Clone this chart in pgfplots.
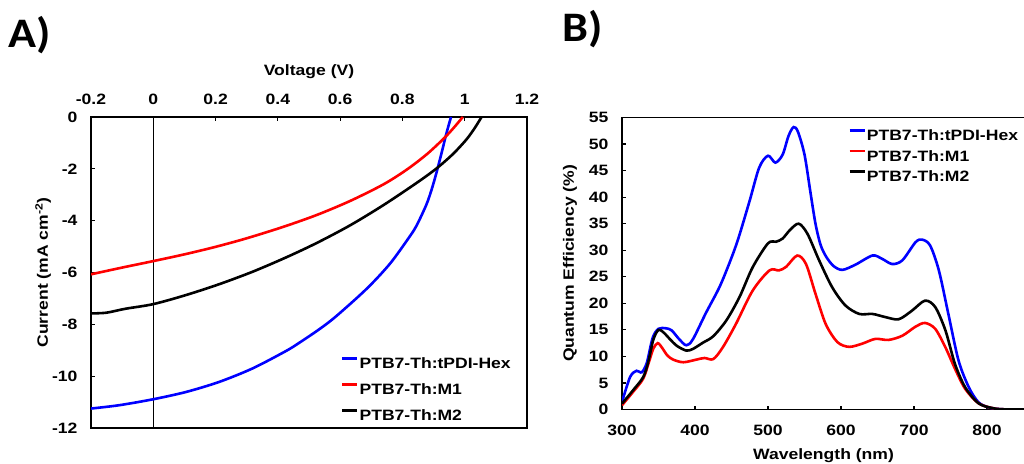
\documentclass[border=0pt]{standalone}
\usepackage{fontspec}
\setmainfont{Liberation Sans}[FakeStretch=1.17]
\newfontfamily\calfont{Carlito}[FakeStretch=1.1]
\usepackage{pgfplots}
\pgfplotsset{compat=1.18}
\newcommand\fs{\bfseries\fontsize{15}{18}\selectfont}
\pgfplotsset{
  common/.style={
    scale only axis,
    axis line style={line width=1.2pt},
    every tick/.style={black, line width=1.2pt},
    major tick length=4pt,
    tick align=inside,
    /pgf/number format/assume math mode=true,
    tick label style={font=\fs},
    legend cell align=left,
    legend image code/.code={\draw[##1, line width=2.6pt] (0pt,4.5pt) -- (15pt,4.5pt);},
    every axis plot/.append style={line width=2.6pt, smooth},
  }
}
\begin{document}
\begin{tikzpicture}[x=1pt,y=1pt]
\useasboundingbox (0,0) rectangle (1024,463);
\node[font=\calfont\bfseries\fontsize{42}{42}\selectfont, anchor=base west, inner sep=0pt] at (8,415) {A)};
\node[font=\calfont\bfseries\fontsize{42}{42}\selectfont, anchor=base west, inner sep=0pt] at (562,421) {B)};
% Panel A
\begin{axis}[common,
  at={(91pt,35pt)}, anchor=south west, width=436pt, height=311pt,
  xmin=-0.2, xmax=1.2, ymin=-12, ymax=0,
  xtick={-0.2,0,0.2,0.4,0.6,0.8,1,1.2}, ytick={-12,-10,-8,-6,-4,-2,0},
  xtick pos=right, xticklabel pos=right, ytick pos=left,
  xticklabel style={yshift=9pt},
  yticklabel style={xshift=-10pt},
  xlabel={Voltage (V)}, ylabel={Current (mA cm\textsuperscript{-2})},
  every axis x label/.style={at={(axis description cs:0.5,1.145)}, anchor=center, font=\fs},
  every axis y label/.style={at={(axis description cs:-0.110,0.5)}, rotate=90, anchor=center, font=\fs},
  legend style={draw=none, fill=none, font=\fs, inner sep=0pt, row sep=11pt,
    nodes={inner xsep=1pt, inner ysep=2pt, text height=11pt, text depth=0pt},
    at={(axis description cs:0.573,0.233)}, anchor=north west},
]
\addplot[black, line width=1.2pt, sharp plot, forget plot] coordinates {(0,-12) (0,0)};
\addplot[blue] coordinates {
(-0.2,-11.25) (-0.109,-11.12) (0,-10.89) (0.105,-10.61) (0.212,-10.22) (0.319,-9.70)
(0.426,-9.03) (0.469,-8.71) (0.533,-8.19) (0.587,-7.69) (0.685,-6.63) (0.76,-5.66)
(0.824,-4.60) (0.845,-4.2) (0.867,-3.65) (0.88,-3.29) (0.894,-2.79) (0.91,-2.12)
(0.926,-1.37) (0.942,-0.60) (0.956,0)};
\addlegendentry{PTB7-Th:tPDI-Hex}
\addplot[red] coordinates {
(-0.2,-6.07) (-0.1,-5.81) (0,-5.56) (0.1,-5.30) (0.2,-5.01) (0.3,-4.68) (0.417,-4.24)
(0.525,-3.78) (0.632,-3.24) (0.739,-2.6) (0.814,-2.03) (0.878,-1.44) (0.932,-0.84)
(0.963,-0.44) (0.994,0)};
\addlegendentry{PTB7-Th:M1}
\addplot[black] coordinates {
(-0.2,-7.58) (-0.15,-7.55) (-0.09,-7.40) (0,-7.22) (0.105,-6.87) (0.212,-6.45)
(0.319,-5.97) (0.426,-5.42) (0.525,-4.86) (0.632,-4.18) (0.739,-3.40) (0.846,-2.54)
(0.91,-1.98) (0.963,-1.42) (1.006,-0.86) (1.033,-0.41) (1.054,0)};
\addlegendentry{PTB7-Th:M2}
\end{axis}
% Panel B
\begin{axis}[common,
  at={(622pt,53.5pt)}, anchor=south west, width=403pt, height=292pt,
  xmin=300, xmax=852, ymin=0, ymax=55,
  xtick={300,400,500,600,700,800}, ytick={0,5,10,15,20,25,30,35,40,45,50,55},
  xtick pos=left, ytick pos=left,
  xticklabel style={yshift=-12pt},
  yticklabel style={xshift=-10pt},
  xlabel={Wavelength (nm)}, ylabel={Quantum Efficiency (\%)},
  every axis x label/.style={at={(axis description cs:0.5,-0.159)}, anchor=center, font=\fs},
  every axis y label/.style={at={(axis description cs:-0.129,0.5)}, rotate=90, anchor=center, font=\fs},
  legend style={draw=none, fill=none, font=\fs, inner sep=0pt, row sep=5.5pt,
    nodes={inner xsep=1pt, inner ysep=2pt, text height=11pt, text depth=0pt},
    at={(axis description cs:0.561,0.966)}, anchor=north west},
]
\addplot[blue] coordinates {
(300,1.4) (311,6.1) (320,7.3) (327,7.0) (334,8.8) (342,13.5) (350,15.2) (360,15.3)
(368,14.9) (378,13.3) (388,12.1) (397,13.2) (415,18.2) (434,23.2) (450,28.6) (460,32.5)
(475,39.4) (488,45.6) (500,47.8) (510,46.5) (520,48.0) (528,51.5) (535,53.2) (541,52.3)
(550,48.0) (558,41.0) (565,35.0) (572,31.0) (580,28.7) (590,27.0) (602,26.3) (620,27.3)
(643,29.0) (656,28.4) (670,27.4) (684,28.1) (702,31.5) (711,32.0) (722,30.9) (734,26.2)
(747,18.0) (761,9.2) (775,4.2) (788,1.4) (802,0.4) (820,0.05) (852,0)};
\addlegendentry{PTB7-Th:tPDI-Hex}
\addplot[red] coordinates {
(300,0.8) (315,3.3) (329,5.8) (337,9.0) (343,11.5) (349,12.5) (355,11.6) (362,10.2)
(370,9.4) (384,8.9) (402,9.4) (413,9.7) (425,9.5) (438,11.7) (456,16.1) (479,22.4)
(502,26.2) (515,26.2) (525,26.9) (540,29.0) (552,27.4) (565,21.8) (579,16.1) (595,12.7)
(611,11.8) (629,12.4) (647,13.3) (665,13.1) (684,13.9) (702,15.6) (715,16.3) (729,15.2)
(743,11.7) (756,7.7) (770,3.9) (788,1.2) (806,0.3) (820,0.05) (852,0)};
\addlegendentry{PTB7-Th:M1}
\addplot[black] coordinates {
(300,1.1) (315,3.6) (329,6.1) (336,9.0) (343,13.2) (350,15.0) (357,14.5) (366,13.2)
(375,12.0) (388,11.1) (397,11.4) (411,12.6) (425,13.8) (443,16.8) (461,21.2) (479,26.8)
(500,31.3) (511,31.6) (520,32.2) (530,33.8) (542,35.0) (554,33.1) (570,28.1) (588,23.0)
(606,19.6) (625,18.0) (643,18.0) (661,17.4) (679,17.0) (697,18.6) (715,20.5) (729,19.3)
(743,14.9) (756,8.6) (770,4.2) (788,1.2) (806,0.3) (820,0.05) (852,0)};
\addlegendentry{PTB7-Th:M2}
\end{axis}
\end{tikzpicture}
\end{document}
